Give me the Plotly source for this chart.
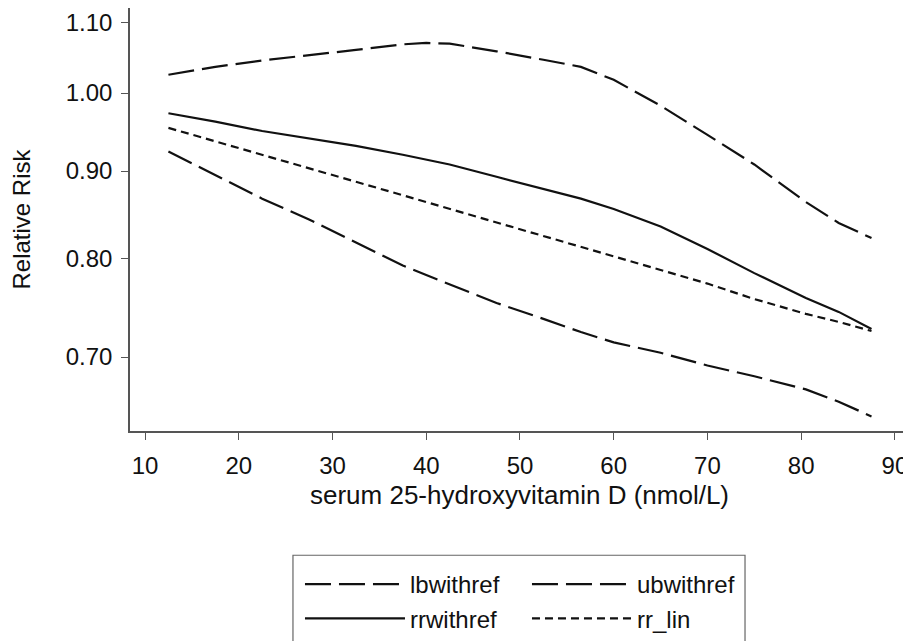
import plotly.graph_objects as go

# serum 25-hydroxyvitamin D (nmol/L)
vitd = [12.5, 17.5, 22.5, 27.5, 32.5, 37.5, 40, 42.5, 47.5, 52.5, 56.5,
        60, 65, 70, 75, 80.5, 84, 87.5]

lbwithref = [0.924, 0.895, 0.867, 0.843, 0.817, 0.792, 0.782, 0.772, 0.753,
             0.737, 0.724, 0.714, 0.704, 0.692, 0.682, 0.670, 0.659, 0.646]
ubwithref = [1.025, 1.036, 1.045, 1.052, 1.060, 1.068, 1.070, 1.069, 1.058,
             1.046, 1.036, 1.018, 0.983, 0.945, 0.908, 0.863, 0.839, 0.822]
rrwithref = [0.973, 0.962, 0.950, 0.940, 0.931, 0.920, 0.914, 0.908, 0.893,
             0.878, 0.867, 0.855, 0.835, 0.810, 0.784, 0.758, 0.744, 0.727]
rr_lin = [0.954, 0.937, 0.920, 0.903, 0.887, 0.871, 0.863, 0.855, 0.840,
          0.824, 0.812, 0.802, 0.787, 0.773, 0.757, 0.742, 0.734, 0.725]

x_ticks = [10, 20, 30, 40, 50, 60, 70, 80, 90]
y_ticks = [0.70, 0.80, 0.90, 1.00, 1.10]
y_ticklabels = ["0.70", "0.80", "0.90", "1.00", "1.10"]

FONT = "Liberation Sans, Arial, sans-serif"
LONG = "26px,8px"
SHORT = "8px,5px"
INK = "#111111"

fig = go.Figure()
fig.add_trace(go.Scatter(x=vitd, y=lbwithref, mode="lines", name="lbwithref",
                         legend="legend", legendgroup="a",
                         line=dict(color=INK, width=2.2, dash=LONG)))
fig.add_trace(go.Scatter(x=vitd, y=ubwithref, mode="lines", name="ubwithref",
                         legend="legend2", legendgroup="c",
                         line=dict(color=INK, width=2.2, dash=LONG)))
fig.add_trace(go.Scatter(x=vitd, y=rrwithref, mode="lines", name="rrwithref",
                         legend="legend", legendgroup="b",
                         line=dict(color=INK, width=2.2)))
fig.add_trace(go.Scatter(x=vitd, y=rr_lin, mode="lines", name="rr_lin",
                         legend="legend2", legendgroup="d",
                         line=dict(color=INK, width=2.2, dash=SHORT)))

leg_common = dict(orientation="v", y=-0.310, yanchor="top", xanchor="left",
                  bgcolor="rgba(0,0,0,0)", borderwidth=0, font=dict(size=24),
                  itemwidth=100, traceorder="grouped", tracegroupgap=0)

# page has an 8px body margin, so the figure is 903x633
fig.update_layout(
    width=903, height=633,
    margin=dict(l=122, r=2, t=0, b=204),
    paper_bgcolor="white", plot_bgcolor="white",
    font=dict(family=FONT, size=24, color=INK),
    showlegend=True,
    legend=dict(x=0.2182, **leg_common),
    legend2=dict(x=0.5096, **leg_common),
    shapes=[dict(type="rect", xref="paper", yref="paper",
                 x0=0.2092, x1=0.7895, y0=-0.2937, y1=-0.52,
                 line=dict(color="#666666", width=1.2))],
)
fig.update_xaxes(
    range=[8.4, 91.5], tickvals=x_ticks, ticks="outside", ticklen=7, tickwidth=1.3,
    tickcolor="#555555", showline=True, linecolor="#555555", linewidth=1.5,
    showgrid=False, zeroline=False, automargin=False, ticklabelstandoff=5,
    title=dict(text="serum 25-hydroxyvitamin D (nmol/L)", standoff=8,
               font=dict(size=26)),
)
fig.update_yaxes(
    type="log", range=[-0.19833, 0.0499], tickvals=y_ticks, ticktext=y_ticklabels,
    ticks="outside", ticklen=7, tickwidth=1.3, tickcolor="#555555",
    showline=True, linecolor="#555555", linewidth=1.5, ticklabelstandoff=4,
    showgrid=False, zeroline=False, automargin=False,
    title=dict(text="Relative Risk", standoff=30, font=dict(size=24)),
)

fig.write_html("out.html")
